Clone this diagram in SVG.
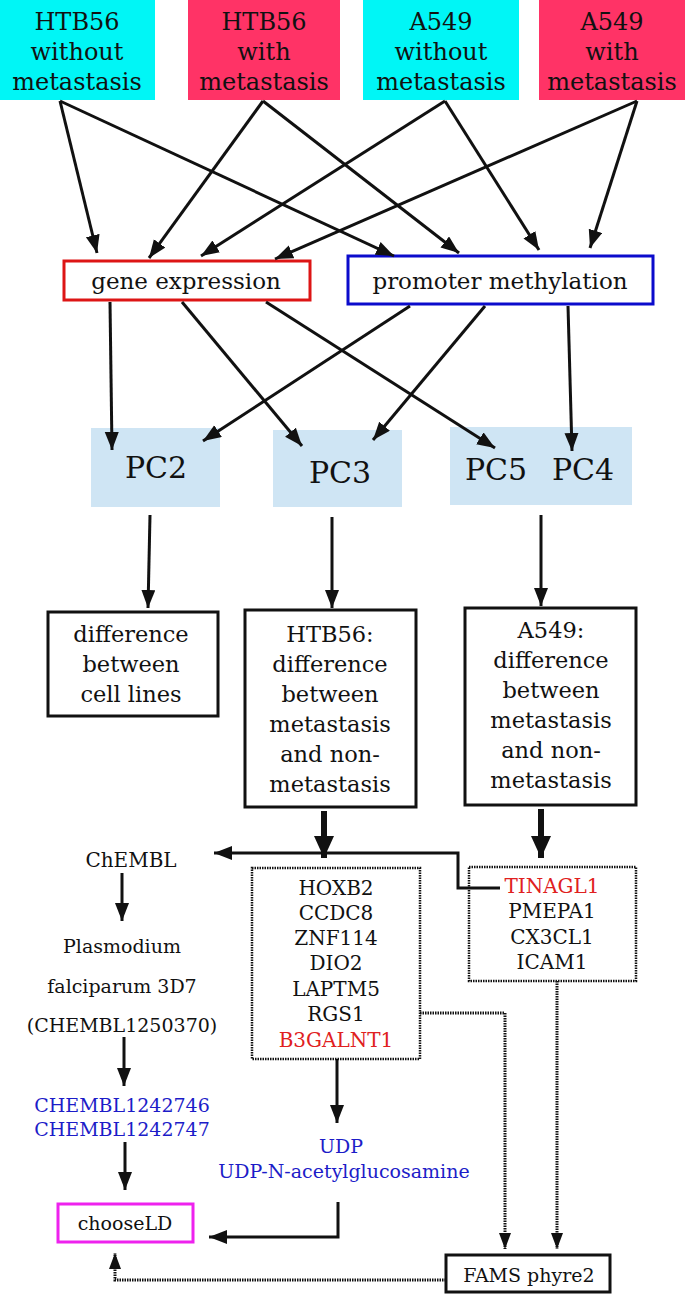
<svg xmlns="http://www.w3.org/2000/svg" width="685" height="1294" viewBox="0 0 685 1294">
<style>
text{font-family:"DejaVu Serif","Liberation Serif",serif;fill:#111;text-anchor:middle}
.top{font-size:24px}
.mid{font-size:23px}
.pc{font-size:30px}
.diff{font-size:22.5px}
.g{font-size:19px}
.gn{font-size:20px}
.red{fill:#e02020}
.blue{fill:#1c1cc8}
.cy{fill:#00f6f6}
.pk{fill:#ff3366}
.pcb{fill:#cfe5f4}
.bx{fill:#fff;stroke:#111;stroke-width:3}
.dotbx{fill:none;stroke:#111;stroke-width:2.5;stroke-dasharray:1.5 1}
.ln{fill:none;stroke:#111;stroke-width:3}
.thick{fill:none;stroke:#111;stroke-width:6}
.dl{fill:none;stroke:#111;stroke-width:3;stroke-dasharray:1.5 1}
</style>
<defs>
<marker id="ah" markerUnits="userSpaceOnUse" markerWidth="20" markerHeight="16" refX="18" refY="7" orient="auto"><path d="M0,0 L18,7 L0,14 z" fill="#111"/></marker>
<marker id="ahb" markerUnits="userSpaceOnUse" markerWidth="24" markerHeight="22" refX="22" refY="10" orient="auto"><path d="M0,0 L22,10 L0,20 z" fill="#111"/></marker>
<marker id="ahs" markerUnits="userSpaceOnUse" markerWidth="18" markerHeight="14" refX="16" refY="6" orient="auto"><path d="M0,0 L16,6 L0,12 z" fill="#111"/></marker>
</defs>

<g id="htb56-without">
<rect class="cy" x="0" y="0" width="155" height="100"/>
<text class="top" x="77" y="30">HTB56</text>
<text class="top" x="77" y="60">without</text>
<text class="top" x="77" y="90">metastasis</text>
</g>
<g id="htb56-with">
<rect class="pk" x="188" y="0" width="152" height="100"/>
<text class="top" x="264" y="30">HTB56</text>
<text class="top" x="264" y="60">with</text>
<text class="top" x="264" y="90">metastasis</text>
</g>
<g id="a549-without">
<rect class="cy" x="363" y="0" width="156" height="100"/>
<text class="top" x="441" y="30">A549</text>
<text class="top" x="441" y="60">without</text>
<text class="top" x="441" y="90">metastasis</text>
</g>
<g id="a549-with">
<rect class="pk" x="539" y="0" width="146" height="100"/>
<text class="top" x="612" y="30">A549</text>
<text class="top" x="612" y="60">with</text>
<text class="top" x="612" y="90">metastasis</text>
</g>

<g id="gene-expression">
<rect x="64" y="261" width="246" height="39" fill="#fff" stroke="#dd1515" stroke-width="3"/>
<text class="mid" x="186" y="289">gene expression</text>
</g>
<g id="promoter-methylation">
<rect x="348" y="256" width="305" height="48" fill="#fff" stroke="#0b0bcc" stroke-width="3"/>
<text class="mid" x="500" y="289">promoter methylation</text>
</g>

<g id="pc2">
<rect class="pcb" x="91" y="428" width="129" height="79"/>
<text class="pc" x="156" y="478">PC2</text>
</g>
<g id="pc3">
<rect class="pcb" x="273" y="430" width="129" height="77"/>
<text class="pc" x="340" y="483">PC3</text>
</g>
<g id="pc5-pc4">
<rect class="pcb" x="450" y="427" width="182" height="78"/>
<text class="pc" x="496" y="480">PC5</text>
<text class="pc" x="583" y="480">PC4</text>
</g>

<g id="diff-cell-lines">
<rect class="bx" x="48" y="612" width="170" height="104"/>
<text class="diff" x="131" y="642">difference</text>
<text class="diff" x="131" y="672">between</text>
<text class="diff" x="131" y="702">cell lines</text>
</g>
<g id="diff-htb56">
<rect class="bx" x="245" y="610" width="171" height="197"/>
<text class="diff" x="330" y="642">HTB56:</text>
<text class="diff" x="330" y="672">difference</text>
<text class="diff" x="330" y="702">between</text>
<text class="diff" x="330" y="732">metastasis</text>
<text class="diff" x="330" y="762">and non-</text>
<text class="diff" x="330" y="792">metastasis</text>
</g>
<g id="diff-a549">
<rect class="bx" x="465" y="608" width="171" height="197"/>
<text class="diff" x="551" y="638">A549:</text>
<text class="diff" x="551" y="668">difference</text>
<text class="diff" x="551" y="698">between</text>
<text class="diff" x="551" y="728">metastasis</text>
<text class="diff" x="551" y="758">and non-</text>
<text class="diff" x="551" y="788">metastasis</text>
</g>

<g id="htb56-genes">
<rect class="dotbx" x="252" y="868" width="168" height="191"/>
<text class="gn" x="336" y="895">HOXB2</text>
<text class="gn" x="336" y="920">CCDC8</text>
<text class="gn" x="336" y="945">ZNF114</text>
<text class="gn" x="336" y="970">DIO2</text>
<text class="gn" x="336" y="996">LAPTM5</text>
<text class="gn" x="336" y="1021">RGS1</text>
<text class="gn red" x="336" y="1047">B3GALNT1</text>
</g>
<g id="a549-genes">
<rect class="dotbx" x="469" y="867" width="167" height="114"/>
<text class="gn red" x="552" y="893">TINAGL1</text>
<text class="gn" x="552" y="918">PMEPA1</text>
<text class="gn" x="552" y="944">CX3CL1</text>
<text class="gn" x="552" y="969">ICAM1</text>
</g>

<g id="chembl">
<text x="131" y="867" font-size="20">ChEMBL</text>
</g>
<g id="plasmodium">
<text class="g" x="122" y="953">Plasmodium</text>
<text class="g" x="122" y="993">falciparum 3D7</text>
<text class="g" x="122" y="1032">(CHEMBL1250370)</text>
</g>
<g id="chembl-compounds">
<text class="g blue" x="122" y="1112">CHEMBL1242746</text>
<text class="g blue" x="122" y="1136">CHEMBL1242747</text>
</g>
<g id="udp">
<text class="g blue" x="341" y="1153">UDP</text>
<text class="g blue" x="344" y="1178">UDP-N-acetylglucosamine</text>
</g>
<g id="chooseld">
<rect x="58" y="1204" width="135" height="38" fill="#fff" stroke="#ee22ee" stroke-width="3"/>
<text class="g" x="125" y="1230">chooseLD</text>
</g>
<g id="fams">
<rect class="bx" x="446" y="1255" width="164" height="37"/>
<text class="g" x="529" y="1282">FAMS phyre2</text>
</g>

<g id="connectors">
<line class="ln" x1="60" y1="101" x2="97" y2="253" marker-end="url(#ah)"/>
<line class="ln" x1="60" y1="101" x2="394" y2="256" marker-end="url(#ah)"/>
<line class="ln" x1="263" y1="101" x2="149" y2="258" marker-end="url(#ah)"/>
<line class="ln" x1="263" y1="101" x2="459" y2="253" marker-end="url(#ah)"/>
<line class="ln" x1="445" y1="101" x2="201" y2="256" marker-end="url(#ah)"/>
<line class="ln" x1="445" y1="101" x2="539" y2="250" marker-end="url(#ah)"/>
<line class="ln" x1="637" y1="101" x2="275" y2="259" marker-end="url(#ah)"/>
<line class="ln" x1="637" y1="101" x2="590" y2="248" marker-end="url(#ah)"/>

<line class="ln" x1="110" y1="302" x2="112" y2="450" marker-end="url(#ah)"/>
<line class="ln" x1="182" y1="302" x2="302" y2="446" marker-end="url(#ah)"/>
<line class="ln" x1="266" y1="302" x2="495" y2="448" marker-end="url(#ah)"/>
<line class="ln" x1="410" y1="306" x2="203" y2="441" marker-end="url(#ah)"/>
<line class="ln" x1="485" y1="306" x2="373" y2="440" marker-end="url(#ah)"/>
<line class="ln" x1="568" y1="306" x2="572" y2="451" marker-end="url(#ah)"/>

<line class="ln" x1="150" y1="515" x2="148" y2="608" marker-end="url(#ah)"/>
<line class="ln" x1="332" y1="517" x2="332" y2="608" marker-end="url(#ah)"/>
<line class="ln" x1="541" y1="515" x2="541" y2="606" marker-end="url(#ah)"/>

<line class="thick" x1="324" y1="811" x2="324" y2="858" marker-end="url(#ahb)"/>
<line class="thick" x1="541" y1="809" x2="541" y2="858" marker-end="url(#ahb)"/>

<polyline class="ln" points="500,888 458,888 458,853 214,853" marker-end="url(#ah)"/>

<line class="ln" x1="122" y1="873" x2="122" y2="921" marker-end="url(#ah)"/>
<line class="ln" x1="124" y1="1037" x2="124" y2="1086" marker-end="url(#ah)"/>
<line class="ln" x1="125" y1="1142" x2="125" y2="1190" marker-end="url(#ah)"/>

<line class="ln" x1="337" y1="1059" x2="337" y2="1123" marker-end="url(#ah)"/>
<polyline class="ln" points="338,1202 338,1237 209,1237" marker-end="url(#ah)"/>

<polyline class="dl" points="420,1013 505,1013 505,1249" marker-end="url(#ahs)"/>
<line class="dl" x1="557" y1="981" x2="557" y2="1249" marker-end="url(#ahs)"/>
<polyline class="dl" points="446,1280 115,1280 115,1253" marker-end="url(#ahs)"/>
</g>
</svg>
